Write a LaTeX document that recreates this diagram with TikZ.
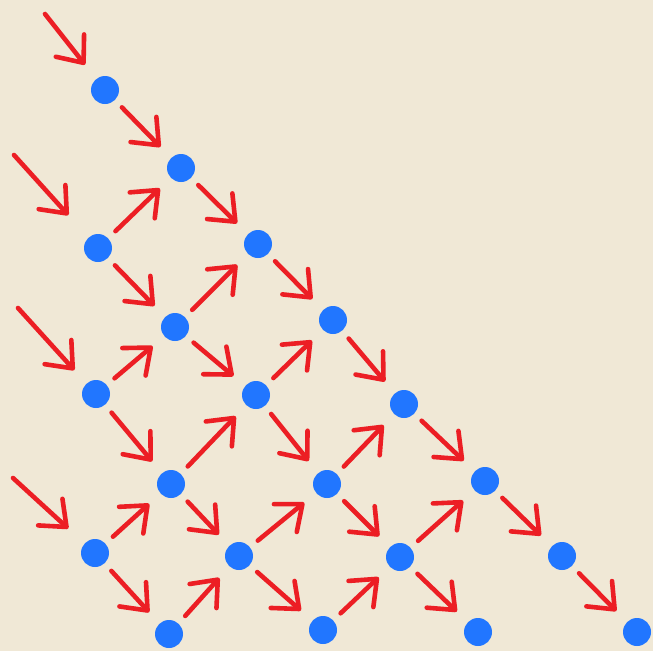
\documentclass[tikz,border=0pt]{standalone}
\usetikzlibrary{arrows.meta}
\definecolor{paper}{RGB}{240,232,214}
\definecolor{dotblue}{RGB}{33,118,255}
\definecolor{penred}{RGB}{236,30,36}
\tikzset{
  dot/.style={circle, fill=dotblue, inner sep=0pt, minimum size=7mm},
  arr/.style={penred, line width=1.15mm, line cap=round,
    -{Straight Barb[length=5.5mm, width=9mm, line cap=round, line join=round]},
    shorten <=2.5mm, shorten >=3.8mm},
  entry/.style={arr, shorten <=0mm}
}
\begin{document}
\begin{tikzpicture}[x=0.25mm, y=-0.25mm]
\fill[paper] (0,0) rectangle (653,651);
\useasboundingbox (0,0) rectangle (653,651);
% first diagonal
\node[dot] (a1) at (105,90) {};
\node[dot] (a2) at (181,168) {};
\node[dot] (a3) at (258,244) {};
\node[dot] (a4) at (333,320) {};
\node[dot] (a5) at (404,404) {};
\node[dot] (a6) at (485,481) {};
\node[dot] (a7) at (562,556) {};
\node[dot] (a8) at (637,632) {};
% second diagonal
\node[dot] (b1) at (98,248) {};
\node[dot] (b2) at (175,327) {};
\node[dot] (b3) at (256,395) {};
\node[dot] (b4) at (327,484) {};
\node[dot] (b5) at (400,557) {};
\node[dot] (b6) at (478,632) {};
% third diagonal
\node[dot] (c1) at (96,394) {};
\node[dot] (c2) at (171,484) {};
\node[dot] (c3) at (239,556) {};
\node[dot] (c4) at (323,630) {};
% fourth diagonal
\node[dot] (d1) at (95,553) {};
\node[dot] (d2) at (169,634) {};
% loose starts
\coordinate (sa) at (45,14);
\coordinate (sb) at (14,155);
\coordinate (sc) at (18,308);
\coordinate (sd) at (13,478);
\draw[entry, shorten >=4.5mm] (sa) -- (a1);
\draw[entry, shorten >=7.5mm] (sb) -- (b1);
\draw[entry, shorten >=4.5mm] (sc) -- (c1);
\draw[entry, shorten >=5.5mm] (sd) -- (d1);
% down the diagonals
\draw[arr] (a1) -- (a2);
\draw[arr] (a2) -- (a3);
\draw[arr] (a3) -- (a4);
\draw[arr] (a4) -- (a5);
\draw[arr] (a5) -- (a6);
\draw[arr] (a6) -- (a7);
\draw[arr] (a7) -- (a8);
\draw[arr] (b1) -- (b2);
\draw[arr] (b2) -- (b3);
\draw[arr] (b3) -- (b4);
\draw[arr] (b4) -- (b5);
\draw[arr] (b5) -- (b6);
\draw[arr] (c1) -- (c2);
\draw[arr] (c2) -- (c3);
\draw[arr] (c3) -- (c4);
\draw[arr] (d1) -- (d2);
% up to the next diagonal
\draw[arr] (b1) -- (a2);
\draw[arr] (b2) -- (a3);
\draw[arr] (b3) -- (a4);
\draw[arr] (b4) -- (a5);
\draw[arr] (b5) -- (a6);
\draw[arr] (c1) -- (b2);
\draw[arr] (c2) -- (b3);
\draw[arr] (c3) -- (b4);
\draw[arr] (c4) -- (b5);
\draw[arr] (d1) -- (c2);
\draw[arr] (d2) -- (c3);
\end{tikzpicture}
\end{document}
